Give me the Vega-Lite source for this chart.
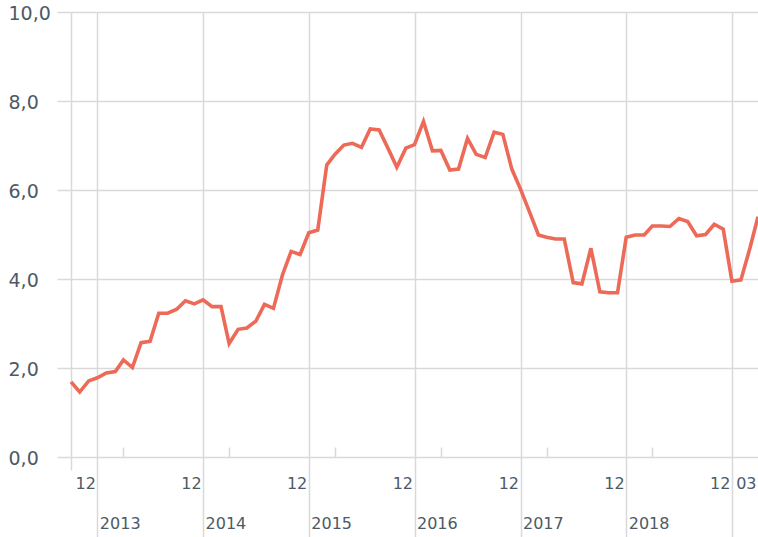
{
  "$schema": "https://vega.github.io/schema/vega-lite/v6.json",
  "width": 687,
  "height": 445,
  "autosize": "none",
  "padding": {"left": 71, "top": 12, "right": 0, "bottom": 80},
  "background": "white",
  "config": {"view": {"stroke": null}},
  "data": {"values": [
    {"date": "2012-09-01", "v": 1.69}, {"date": "2012-10-01", "v": 1.46}, {"date": "2012-11-01", "v": 1.71}, {"date": "2012-12-01", "v": 1.78},
    {"date": "2013-01-01", "v": 1.89}, {"date": "2013-02-01", "v": 1.92}, {"date": "2013-03-01", "v": 2.18}, {"date": "2013-04-01", "v": 2.01},
    {"date": "2013-05-01", "v": 2.57}, {"date": "2013-06-01", "v": 2.60}, {"date": "2013-07-01", "v": 3.23}, {"date": "2013-08-01", "v": 3.23},
    {"date": "2013-09-01", "v": 3.32}, {"date": "2013-10-01", "v": 3.51}, {"date": "2013-11-01", "v": 3.44}, {"date": "2013-12-01", "v": 3.53},
    {"date": "2014-01-01", "v": 3.38}, {"date": "2014-02-01", "v": 3.38}, {"date": "2014-03-01", "v": 2.55}, {"date": "2014-04-01", "v": 2.87},
    {"date": "2014-05-01", "v": 2.90}, {"date": "2014-06-01", "v": 3.05}, {"date": "2014-07-01", "v": 3.43}, {"date": "2014-08-01", "v": 3.34},
    {"date": "2014-09-01", "v": 4.09}, {"date": "2014-10-01", "v": 4.62}, {"date": "2014-11-01", "v": 4.55}, {"date": "2014-12-01", "v": 5.04},
    {"date": "2015-01-01", "v": 5.10}, {"date": "2015-02-01", "v": 6.56}, {"date": "2015-03-01", "v": 6.80}, {"date": "2015-04-01", "v": 7.01},
    {"date": "2015-05-01", "v": 7.05}, {"date": "2015-06-01", "v": 6.96}, {"date": "2015-07-01", "v": 7.37}, {"date": "2015-08-01", "v": 7.35},
    {"date": "2015-09-01", "v": 6.93}, {"date": "2015-10-01", "v": 6.51}, {"date": "2015-11-01", "v": 6.94}, {"date": "2015-12-01", "v": 7.02},
    {"date": "2016-01-01", "v": 7.54}, {"date": "2016-02-01", "v": 6.88}, {"date": "2016-03-01", "v": 6.89}, {"date": "2016-04-01", "v": 6.45},
    {"date": "2016-05-01", "v": 6.47}, {"date": "2016-06-01", "v": 7.16}, {"date": "2016-07-01", "v": 6.80}, {"date": "2016-08-01", "v": 6.73},
    {"date": "2016-09-01", "v": 7.30}, {"date": "2016-10-01", "v": 7.25}, {"date": "2016-11-01", "v": 6.47}, {"date": "2016-12-01", "v": 6.02},
    {"date": "2017-01-01", "v": 5.51}, {"date": "2017-02-01", "v": 4.99}, {"date": "2017-03-01", "v": 4.94}, {"date": "2017-04-01", "v": 4.90},
    {"date": "2017-05-01", "v": 4.90}, {"date": "2017-06-01", "v": 3.92}, {"date": "2017-07-01", "v": 3.89}, {"date": "2017-08-01", "v": 4.69},
    {"date": "2017-09-01", "v": 3.71}, {"date": "2017-10-01", "v": 3.69}, {"date": "2017-11-01", "v": 3.69}, {"date": "2017-12-01", "v": 4.94},
    {"date": "2018-01-01", "v": 4.99}, {"date": "2018-02-01", "v": 4.99}, {"date": "2018-03-01", "v": 5.19}, {"date": "2018-04-01", "v": 5.19},
    {"date": "2018-05-01", "v": 5.18}, {"date": "2018-06-01", "v": 5.36}, {"date": "2018-07-01", "v": 5.29}, {"date": "2018-08-01", "v": 4.97},
    {"date": "2018-09-01", "v": 5.00}, {"date": "2018-10-01", "v": 5.23}, {"date": "2018-11-01", "v": 5.12}, {"date": "2018-12-01", "v": 3.95},
    {"date": "2019-01-01", "v": 3.98}, {"date": "2019-02-01", "v": 4.69}, {"date": "2019-03-01", "v": 5.40}
  ]},
  "resolve": {"axis": {"x": "independent", "y": "independent"}},
  "layer": [
    {
      "mark": {"type": "line", "opacity": 0},
      "encoding": {
        "x": {"field": "date", "type": "temporal",
          "scale": {"type": "utc", "domain": [{"year": 2012, "month": 9, "date": 1, "utc": true}, {"year": 2019, "month": 3, "date": 1, "utc": true}]},
          "axis": {"orient": "bottom", "offset": 0, "title": null,
            "values": [{"year": 2012, "month": 12, "date": 1, "utc": true}, {"year": 2013, "month": 12, "date": 1, "utc": true}, {"year": 2014, "month": 12, "date": 1, "utc": true}, {"year": 2015, "month": 12, "date": 1, "utc": true}, {"year": 2016, "month": 12, "date": 1, "utc": true}, {"year": 2017, "month": 12, "date": 1, "utc": true}],
            "labelExpr": "'' + (utcyear(datum.value) + 1)",
            "labelAlign": "left", "labelBaseline": "top", "labelPadding": 58, "labelOffset": 2,
            "labelFlush": false, "labelOverlap": false, "labelBound": false,
            "labelFont": "DejaVu Sans", "labelFontSize": 16, "labelColor": "#4d5a66",
            "domain": false, "ticks": false, "grid": false}
        },
        "y": {"field": "v", "type": "quantitative", "scale": {"domain": [0, 10], "nice": false}, "axis": null}
      }
    },
    {
      "mark": {"type": "line", "opacity": 0},
      "encoding": {
        "x": {"field": "date", "type": "temporal",
          "axis": {"orient": "bottom", "offset": 0, "title": null,
            "values": [{"year": 2012, "month": 9, "date": 1, "utc": true}, {"year": 2013, "month": 3, "date": 1, "utc": true}, {"year": 2014, "month": 3, "date": 1, "utc": true}, {"year": 2015, "month": 3, "date": 1, "utc": true}, {"year": 2016, "month": 3, "date": 1, "utc": true}, {"year": 2017, "month": 3, "date": 1, "utc": true}, {"year": 2018, "month": 3, "date": 1, "utc": true}],
            "labels": false, "domain": false, "ticks": true,
            "tickSize": {"condition": {"test": "utcmonth(datum.value) === 8", "value": 13}, "value": -10},
            "tickColor": "#d9d9d9", "tickWidth": 1.5,
            "grid": true, "gridColor": "#d9d9d9", "gridWidth": 1.5,
            "gridOpacity": {"condition": {"test": "utcmonth(datum.value) === 8", "value": 1}, "value": 0}}
        },
        "y": {"field": "v", "type": "quantitative", "axis": null}
      }
    },
    {
      "mark": {"type": "line", "color": "#ec6a57", "strokeWidth": 3.6},
      "encoding": {
        "x": {"field": "date", "type": "temporal",
          "axis": {"orient": "bottom", "offset": 0, "title": null,
            "values": [{"year": 2012, "month": 12, "date": 1, "utc": true}, {"year": 2013, "month": 12, "date": 1, "utc": true}, {"year": 2014, "month": 12, "date": 1, "utc": true}, {"year": 2015, "month": 12, "date": 1, "utc": true}, {"year": 2016, "month": 12, "date": 1, "utc": true}, {"year": 2017, "month": 12, "date": 1, "utc": true}, {"year": 2018, "month": 12, "date": 1, "utc": true}, {"year": 2019, "month": 3, "date": 1, "utc": true}],
            "labelExpr": "utcFormat(datum.value, '%m')",
            "labelAlign": "right", "labelBaseline": "top", "labelPadding": -62, "labelOffset": -2,
            "labelFlush": false, "labelOverlap": false, "labelBound": false,
            "labelFont": "DejaVu Sans", "labelFontSize": 16, "labelColor": "#4d5a66",
            "domain": false, "ticks": true, "tickSize": 80, "tickColor": "#d9d9d9", "tickWidth": 1.5,
            "tickOpacity": {"condition": {"test": "utcmonth(datum.value) === 2", "value": 0}, "value": 1},
            "grid": true, "gridColor": "#d9d9d9", "gridWidth": 1.5,
            "gridOpacity": {"condition": {"test": "utcmonth(datum.value) === 2", "value": 0}, "value": 1}}
        },
        "y": {"field": "v", "type": "quantitative",
          "axis": {"title": null, "values": [0, 2, 4, 6, 8, 10],
            "labelExpr": "replace(format(datum.value, '.1f'), '.', ',')",
            "labelAlign": "left", "labelBaseline": "middle", "labelPadding": 49, "labelOffset": 1,
            "labelFont": "DejaVu Sans", "labelFontSize": 19, "labelColor": "#4d5a66", "labelBound": false,
            "domain": false, "ticks": true, "tickSize": 14, "tickColor": "#d9d9d9", "tickWidth": 1.5,
            "grid": true, "gridColor": "#d9d9d9", "gridWidth": 1.5}
        }
      }
    }
  ]
}
